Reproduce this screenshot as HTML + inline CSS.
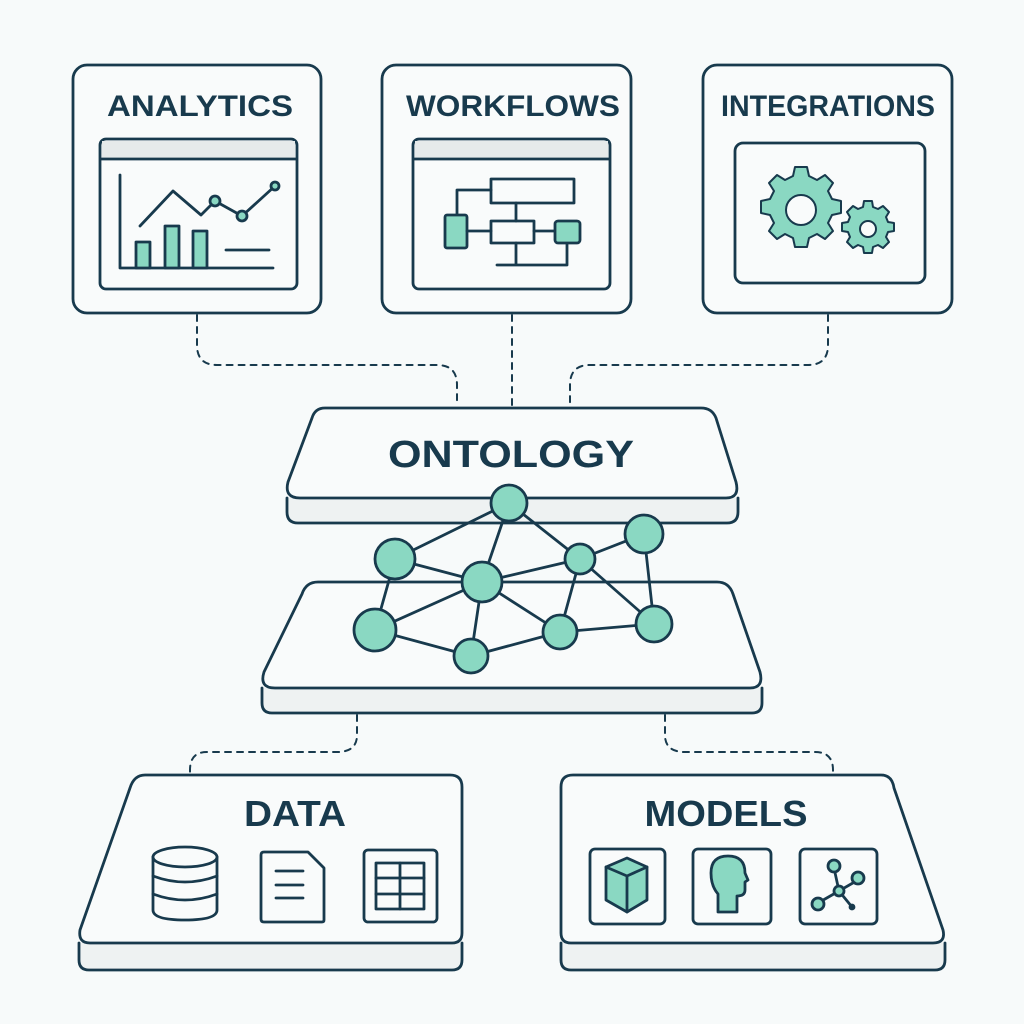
<!DOCTYPE html>
<html><head><meta charset="utf-8"><style>
html,body{margin:0;padding:0;background:#f7fafa;}
svg{display:block}
text{font-family:"Liberation Sans",sans-serif;font-weight:bold;fill:#183a4d;text-anchor:middle}
</style></head><body>
<svg width="1024" height="1024" viewBox="0 0 1024 1024" xmlns="http://www.w3.org/2000/svg">
<rect width="1024" height="1024" fill="#f7fafa"/>
<g fill="none" stroke="#183a4d" stroke-width="2.8" stroke-linejoin="round" stroke-linecap="round">
<g stroke-dasharray="6 6" stroke-width="2">
<path d="M197 315 V345 Q197 365 217 365 H437 Q457 365 457 385 V406"/>
<path d="M512 315 V406"/>
<path d="M828 315 V345 Q828 365 808 365 H590 Q570 365 570 385 V406"/>
<path d="M357 715 V735 Q357 752 337 752 H207 Q190 752 190 770 V776"/>
<path d="M665 715 V735 Q665 752 685 752 H815 Q833 752 833 770 V776"/>
</g>
<rect x="73" y="65" width="248" height="248" rx="14" fill="#f9fbfb"/>
<rect x="382" y="65" width="249" height="248" rx="14" fill="#f9fbfb"/>
<rect x="703" y="65" width="249" height="248" rx="14" fill="#f9fbfb"/>
<rect x="100" y="139" width="197" height="150" rx="6" fill="#f9fbfb"/>
<rect x="102" y="141" width="193" height="17" fill="#e6eaea" stroke="none"/>
<path d="M101 159 H296" />
<path d="M120 175 V268 H273"/>
<path d="M140 226 L173 191 L201 215 L215 201 L242 216 L275 186"/>
<circle cx="215" cy="201" r="5" fill="#8ad8c2"/><circle cx="242" cy="216" r="5" fill="#8ad8c2"/><circle cx="275" cy="186" r="4" fill="#8ad8c2"/>
<rect x="136" y="242" width="14" height="26" fill="#8ad8c2"/>
<rect x="165" y="226" width="14" height="42" fill="#8ad8c2"/>
<rect x="193" y="231" width="14" height="37" fill="#8ad8c2"/>
<path d="M226 250 H269"/>
<rect x="413" y="139" width="197" height="150" rx="6" fill="#f9fbfb"/>
<rect x="415" y="141" width="193" height="17" fill="#e6eaea" stroke="none"/>
<path d="M414 159 H609"/>
<rect x="491" y="179" width="83" height="24" fill="#f9fbfb"/>
<path d="M491 190 H457 V215"/>
<rect x="445" y="215" width="22" height="33" rx="2" fill="#8ad8c2"/>
<rect x="491" y="221" width="43" height="22" fill="#f9fbfb"/>
<path d="M467 231 H491 M534 231 H555 M516 203 V221 M516 243 V265 M497 265 H567 V243"/>
<rect x="555" y="221" width="25" height="22" rx="3" fill="#8ad8c2"/>
<rect x="735" y="143" width="190" height="140" rx="8" fill="#f9fbfb"/>
<g fill="#8ad8c2" stroke-width="2">
<path d="M795 167 h12 l2 9 l8 4 l8 -5 l8 8 l-5 8 l4 8 l9 2 v12 l-9 2 l-4 8 l5 8 l-8 8 l-8 -5 l-8 4 l-2 9 h-12 l-2 -9 l-8 -4 l-8 5 l-8 -8 l5 -8 l-4 -8 l-9 -2 v-12 l9 -2 l4 -8 l-5 -8 l8 -8 l8 5 l8 -4 z"/>
<circle cx="801" cy="210" r="15" fill="#f9fbfb"/>
<path d="M864 201 h8 l1 6 l5 2 l5 -3 l6 6 l-3 5 l2 5 l6 1 v8 l-6 1 l-2 5 l3 5 l-6 6 l-5 -3 l-5 2 l-1 6 h-8 l-1 -6 l-5 -2 l-5 3 l-6 -6 l3 -5 l-2 -5 l-6 -1 v-8 l6 -1 l2 -5 l-3 -5 l6 -6 l5 3 l5 -2 z"/>
<circle cx="868" cy="229" r="8" fill="#f9fbfb"/>
</g>
<path d="M287 498 V512 Q287 523 298 523 H727 Q738 523 738 512 V498" fill="#eef2f2"/>
<path d="M325 408 H701 Q712 408 716 418 L736 482 Q740 498 726 498 H300 Q284 498 288 482 L312 418 Q315 408 325 408 Z" fill="#f9fbfb"/>
<path d="M262 688 V703 Q262 713 272 713 H752 Q762 713 762 703 V688" fill="#eef2f2"/>
<path d="M318 582 H717 Q729 582 733 594 L760 672 Q764 688 750 688 H275 Q259 688 264 672 L302 594 Q306 582 318 582 Z" fill="#f9fbfb"/>
<path d="M509 503 L395 559 M509 503 L482 582 M509 503 L580 559 M395 559 L482 582 M395 559 L375 630 M482 582 L580 559 M482 582 L375 630 M482 582 L471 656 M482 582 L560 632 M580 559 L644 534 M580 559 L560 632 M580 559 L654 624 M644 534 L654 624 M375 630 L471 656 M471 656 L560 632 M560 632 L654 624"/>
<g fill="#8ad8c2">
<circle cx="509" cy="503" r="18"/><circle cx="395" cy="559" r="20"/><circle cx="482" cy="582" r="20"/>
<circle cx="580" cy="559" r="15"/><circle cx="644" cy="534" r="19"/><circle cx="375" cy="630" r="21"/>
<circle cx="471" cy="656" r="17"/><circle cx="560" cy="632" r="17"/><circle cx="654" cy="624" r="18"/>
</g>
<path d="M79 943 V960 Q79 970 89 970 H452 Q462 970 462 960 V943" fill="#eef2f2"/>
<path d="M145 775 H450 Q462 775 462 787 V933 Q462 943 452 943 H90 Q78 943 80 930 L130 788 Q134 775 145 775 Z" fill="#f9fbfb"/>
<path d="M561 943 V960 Q561 970 571 970 H935 Q945 970 945 960 V943" fill="#eef2f2"/>
<path d="M573 775 H881 Q892 775 894 788 L943 930 Q946 943 933 943 H571 Q561 943 561 933 V787 Q561 775 573 775 Z" fill="#f9fbfb"/>
<path d="M153 857 V910 Q153 920 185 920 Q217 920 217 910 V857"/>
<ellipse cx="185" cy="857" rx="32" ry="10" fill="#f9fbfb"/>
<path d="M153 876 Q185 888 217 876 M153 894 Q185 906 217 894"/>
<path d="M264 852 H308 L324 868 V920 Q324 922 322 922 H264 Q261 922 261 919 V855 Q261 852 264 852 Z" fill="#f9fbfb"/>
<path d="M276 871 H303 M276 885 H303 M276 898 H303"/>
<rect x="364" y="850" width="73" height="72" rx="4" fill="#f9fbfb"/>
<rect x="376" y="863" width="48" height="46"/>
<path d="M376 878 H424 M376 894 H424 M400 863 V909"/>
<rect x="590" y="849" width="75" height="75" rx="5" fill="#f9fbfb"/>
<path d="M606 867 L627 858 L647 867 V900 L627 912 L606 900 Z" fill="#8ad8c2"/>
<path d="M606 867 L627 876 L647 867 M627 876 V912"/>
<rect x="693" y="849" width="78" height="75" rx="5" fill="#f9fbfb"/>
<path d="M718 912 V894 Q711 886 711 873 Q711 856 728 856 Q745 856 745 873 L748 880 L745 882 V890 Q745 896 737 896 V912 Z" fill="#8ad8c2"/>
<rect x="800" y="849" width="77" height="75" rx="5" fill="#f9fbfb"/>
<path d="M818 903 L839 891 L858 880 M839 891 L834 868 M839 891 L852 907"/>
<g fill="#8ad8c2"><circle cx="834" cy="866" r="6"/><circle cx="858" cy="878" r="6"/><circle cx="818" cy="904" r="6"/><circle cx="839" cy="891" r="5"/></g>
<circle cx="852" cy="907" r="2" fill="#183a4d"/>
</g>
<text x="200" y="116" font-size="30" textLength="186" lengthAdjust="spacingAndGlyphs">ANALYTICS</text>
<text x="513" y="116" font-size="30" textLength="214" lengthAdjust="spacingAndGlyphs">WORKFLOWS</text>
<text x="828" y="116" font-size="30" textLength="214" lengthAdjust="spacingAndGlyphs">INTEGRATIONS</text>
<text x="511" y="467" font-size="38" textLength="246" lengthAdjust="spacingAndGlyphs">ONTOLOGY</text>
<text x="295" y="826" font-size="36" textLength="102" lengthAdjust="spacingAndGlyphs">DATA</text>
<text x="726" y="826" font-size="36" textLength="163" lengthAdjust="spacingAndGlyphs">MODELS</text>
</svg>
</body></html>
